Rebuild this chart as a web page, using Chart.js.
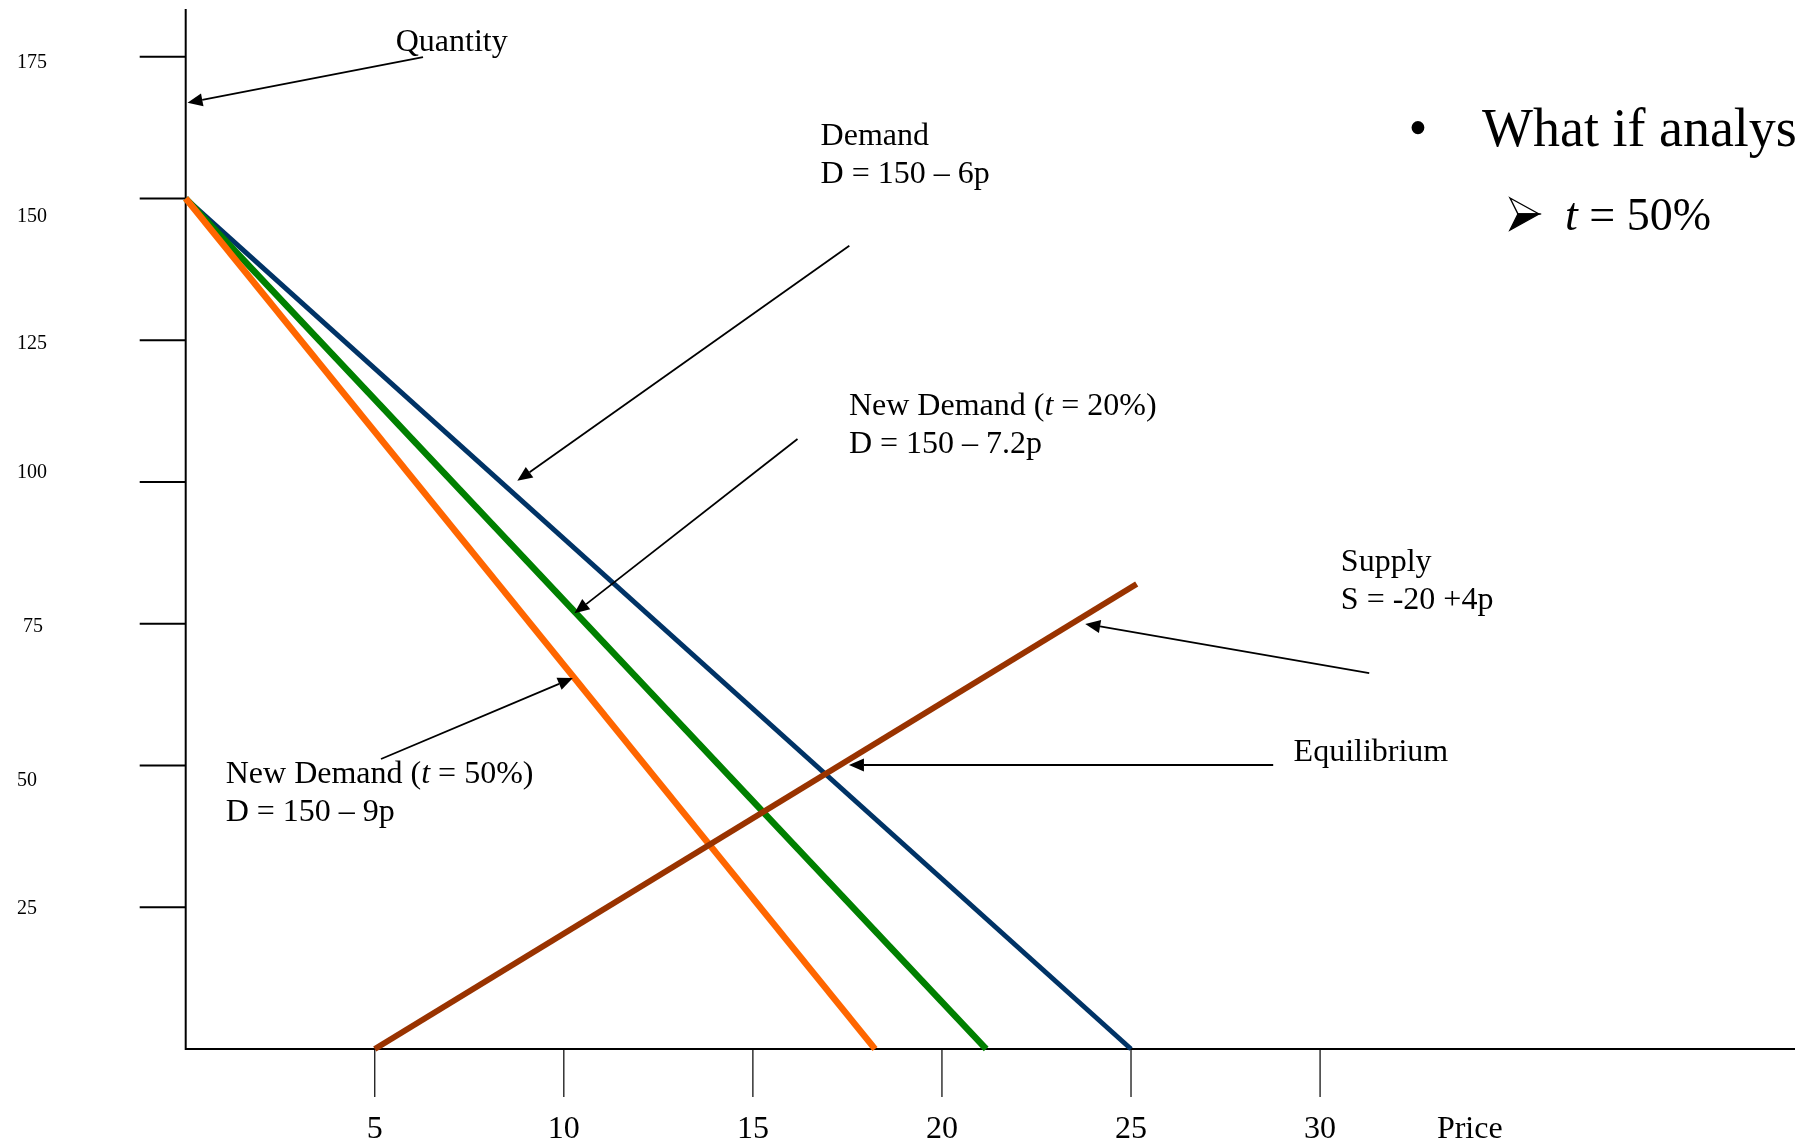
<!DOCTYPE html>
<html>
<head>
<meta charset="utf-8">
<title>Demand and supply</title>
<script src="https://cdn.jsdelivr.net/npm/chart.js@4.4.1/dist/chart.umd.min.js"></script>
<style>
  html, body { margin: 0; padding: 0; background: #ffffff; overflow: hidden; }
  canvas { display: block; }
</style>
</head>
<body>
<canvas id="chart" width="1795" height="1143"></canvas>
<script>
// End points of each curve: price (x) and quantity (y)
const demandPrice = [0, 25];
const demandQty = [150, 0];
const demand20Price = [0, 21.17];
const demand20Qty = [150, 0];
const demand50Price = [0, 18.23];
const demand50Qty = [150, 0];
const supplyPrice = [5, 25.15];
const supplyQty = [0, 82];

// Axis ticks
const priceTicks = [5, 10, 15, 20, 25, 30];
const quantityTicks = [25, 50, 75, 100, 125, 150, 175];

const SERIF = '"Liberation Serif", "Times New Roman", Times, serif';

function toPoints(xs, ys) {
  return xs.map((x, i) => ({ x: x, y: ys[i] }));
}

// Straight line with a filled triangular head at (x2, y2)
function drawArrow(ctx, x1, y1, x2, y2) {
  const a = Math.atan2(y2 - y1, x2 - x1);
  const len = 15, half = 6.5;
  const bx = x2 - len * Math.cos(a), by = y2 - len * Math.sin(a);
  ctx.beginPath();
  ctx.moveTo(x1, y1);
  ctx.lineTo(bx, by);
  ctx.stroke();
  ctx.beginPath();
  ctx.moveTo(x2, y2);
  ctx.lineTo(bx + half * Math.sin(a), by - half * Math.cos(a));
  ctx.lineTo(bx - half * Math.sin(a), by + half * Math.cos(a));
  ctx.closePath();
  ctx.fill();
}

// Text made of runs, some of them italic
function drawRuns(ctx, runs, x, y, size) {
  let cx = x;
  for (const [txt, italic] of runs) {
    ctx.font = (italic ? 'italic ' : '') + size + 'px ' + SERIF;
    ctx.fillText(txt, cx, y);
    cx += ctx.measureText(txt).width;
  }
}

// Two-tone arrowhead bullet: outlined upper facet, solid lower facet
function drawArrowBullet(ctx, x, y) {
  ctx.save();
  ctx.lineWidth = 1.4;
  ctx.lineJoin = 'miter';
  ctx.beginPath();
  ctx.moveTo(x, y - 16);
  ctx.lineTo(x + 29, y);
  ctx.lineTo(x + 8, y);
  ctx.closePath();
  ctx.fillStyle = '#fff';
  ctx.fill();
  ctx.stroke();
  ctx.beginPath();
  ctx.moveTo(x + 8, y);
  ctx.lineTo(x + 29, y);
  ctx.lineTo(x, y + 16);
  ctx.closePath();
  ctx.fillStyle = '#000';
  ctx.fill();
  ctx.stroke();
  ctx.restore();
}

// Hand-drawn axes: lines, tick marks and tick labels
const axesPlugin = {
  id: 'handAxes',
  beforeDatasetsDraw(chart) {
    const { ctx, chartArea, scales } = chart;
    const xs = scales.x, ys = scales.y;
    const x0 = xs.getPixelForValue(0);
    const y0 = ys.getPixelForValue(0);
    ctx.save();
    ctx.strokeStyle = '#000';
    ctx.fillStyle = '#000';
    ctx.lineCap = 'butt';

    // axis lines
    ctx.lineWidth = 2;
    ctx.beginPath();
    ctx.moveTo(x0, chartArea.top);
    ctx.lineTo(x0, y0);
    ctx.lineTo(chartArea.right, y0);
    ctx.stroke();

    // quantity ticks, to the left of the axis
    ctx.lineWidth = 2;
    quantityTicks.forEach(v => {
      const py = ys.getPixelForValue(v);
      ctx.beginPath();
      ctx.moveTo(x0 - 46, py);
      ctx.lineTo(x0, py);
      ctx.stroke();
    });
    // quantity labels sit in loose text boxes beside their ticks
    const nudge = { 175: [0, 6], 150: [0, 18], 125: [0, 4], 100: [0, -9], 75: [6, 3], 50: [0, 15], 25: [0, 2] };
    ctx.font = '20px ' + SERIF;
    ctx.textAlign = 'left';
    ctx.textBaseline = 'middle';
    quantityTicks.forEach(v => {
      const n = nudge[v] || [0, 0];
      ctx.fillText(String(v), 17 + n[0], ys.getPixelForValue(v) + n[1]);
    });

    // price ticks, below the axis
    ctx.lineWidth = 1.2;
    priceTicks.forEach(v => {
      const px = xs.getPixelForValue(v);
      ctx.beginPath();
      ctx.moveTo(px, y0);
      ctx.lineTo(px, y0 + 48);
      ctx.stroke();
    });
    ctx.font = '32px ' + SERIF;
    ctx.textAlign = 'center';
    ctx.textBaseline = 'alphabetic';
    priceTicks.forEach(v => {
      ctx.fillText(String(v), xs.getPixelForValue(v), y0 + 89);
    });
    ctx.textAlign = 'left';
    ctx.fillText('Price', xs.getPixelForValue(33.09), y0 + 89);
    ctx.restore();
  }
};

// Curve captions and their pointer arrows
const notesPlugin = {
  id: 'curveNotes',
  afterDatasetsDraw(chart) {
    const { ctx, scales } = chart;
    const X = v => scales.x.getPixelForValue(v);
    const Y = v => scales.y.getPixelForValue(v);
    const lead = 38;
    ctx.save();
    ctx.fillStyle = '#000';
    ctx.strokeStyle = '#000';
    ctx.lineWidth = 1.8;
    ctx.textAlign = 'left';
    ctx.textBaseline = 'alphabetic';

    // Quantity axis name
    drawRuns(ctx, [['Quantity', false]], X(5.554), Y(176.03), 32);
    drawArrow(ctx, X(6.276), Y(174.92), X(0.048), Y(166.87));

    // Demand
    drawRuns(ctx, [['Demand', false]], X(16.79), Y(159.41), 32);
    drawRuns(ctx, [['D = 150 \u2013 6p', false]], X(16.79), Y(159.41) + lead, 32);
    drawArrow(ctx, X(17.55), Y(141.65), X(8.77), Y(100.19));

    // New demand, t = 20%
    drawRuns(ctx, [['New Demand (', false], ['t', true], [' = 20%)', false]], X(17.54), Y(111.80), 32);
    drawRuns(ctx, [['D = 150 \u2013 7.2p', false]], X(17.54), Y(111.80) + lead, 32);
    drawArrow(ctx, X(16.18), Y(107.56), X(10.28), Y(76.83));

    // Supply
    drawRuns(ctx, [['Supply', false]], X(30.55), Y(84.32), 32);
    drawRuns(ctx, [['S = -20 +4p', false]], X(30.55), Y(84.32) + lead, 32);
    drawArrow(ctx, X(31.30), Y(66.30), X(23.79), Y(74.96));

    // Equilibrium
    drawRuns(ctx, [['Equilibrium', false]], X(29.30), Y(50.86), 32);
    drawArrow(ctx, X(28.76), Y(50.08), X(17.54), Y(50.08));

    // New demand, t = 50%
    drawRuns(ctx, [['New Demand (', false], ['t', true], [' = 50%)', false]], X(1.058), Y(46.96), 32);
    drawRuns(ctx, [['D = 150 \u2013 9p', false]], X(1.058), Y(46.96) + lead, 32);
    drawArrow(ctx, X(5.165), Y(51.14), X(10.24), Y(65.42));
    ctx.restore();
  },
  afterDraw(chart) {
    // Bullet points at the top right
    const { ctx } = chart;
    ctx.save();
    ctx.fillStyle = '#000';
    ctx.strokeStyle = '#000';
    ctx.textBaseline = 'alphabetic';
    ctx.textAlign = 'center';
    ctx.font = '54px ' + SERIF;
    ctx.fillText('\u2022', 1418, 146);
    ctx.textAlign = 'left';
    ctx.fillText('What if analysis', 1482, 146);
    drawArrowBullet(ctx, 1510, 214);
    drawRuns(ctx, [['t', true], [' = 50%', false]], 1565, 230, 46);
    ctx.restore();
  }
};

const lineStyle = { showLine: true, pointRadius: 0, pointHoverRadius: 0, fill: false, tension: 0, clip: false, borderCapStyle: 'butt' };

new Chart(document.getElementById('chart'), {
  type: 'scatter',
  data: {
    datasets: [
      Object.assign({ label: 'Supply', data: toPoints(supplyPrice, supplyQty), borderColor: '#993300', borderWidth: 6 }, lineStyle),
      Object.assign({ label: 'New Demand (t = 50%)', data: toPoints(demand50Price, demand50Qty), borderColor: '#ff6600', borderWidth: 6.5 }, lineStyle),
      Object.assign({ label: 'New Demand (t = 20%)', data: toPoints(demand20Price, demand20Qty), borderColor: '#008000', borderWidth: 6.5 }, lineStyle),
      Object.assign({ label: 'Demand', data: toPoints(demandPrice, demandQty), borderColor: '#003366', borderWidth: 5 }, lineStyle)
    ]
  },
  options: {
    responsive: false,
    animation: false,
    devicePixelRatio: 1,
    layout: { padding: { left: 185.7, right: 0, top: 9, bottom: 94 } },
    plugins: { legend: { display: false }, tooltip: { enabled: false } },
    scales: {
      x: { type: 'linear', min: 0, max: 42.56, display: false },
      y: { type: 'linear', min: 0, max: 183.4, display: false }
    }
  },
  plugins: [axesPlugin, notesPlugin]
});
</script>
</body>
</html>
